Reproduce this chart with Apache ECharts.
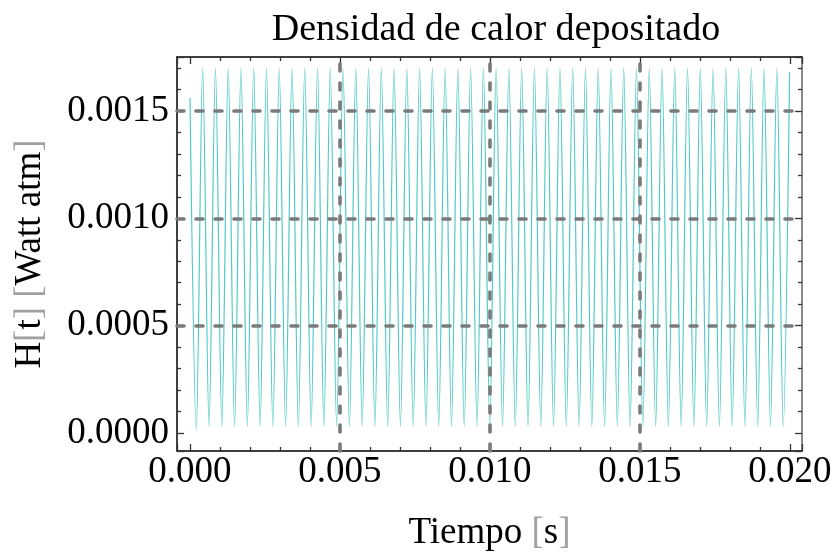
<!DOCTYPE html>
<html>
<head>
<meta charset="utf-8">
<script src="https://cdn.jsdelivr.net/npm/echarts@6/dist/echarts.min.js"></script>
<style>
  html, body { margin: 0; padding: 0; background: #ffffff; }
  #chart { width: 834px; height: 553px; }
</style>
</head>
<body>
<div id="chart"></div>
<script>
// Heat deposition density H(t) over 20 ms: alternating maxima and minima of the signal.
const startPoint = [0.000000, 0.00156];

const valleyTimes = [
  0.000210, 0.000635, 0.001061, 0.001486, 0.001911, 0.002337, 0.002762, 0.003187,
  0.003612, 0.004038, 0.004463, 0.004888, 0.005314, 0.005739, 0.006164, 0.006590,
  0.007015, 0.007440, 0.007865, 0.008291, 0.008716, 0.009141, 0.009567, 0.009992,
  0.010417, 0.010843, 0.011268, 0.011693, 0.012118, 0.012544, 0.012969, 0.013394,
  0.013820, 0.014245, 0.014670, 0.015096, 0.015521, 0.015946, 0.016371, 0.016797,
  0.017222, 0.017647, 0.018073, 0.018498, 0.018923, 0.019349, 0.019774
];
const valleyValues = [
  0.00001, 0.00003, 0.00003, 0.00003, 0.00003, 0.00003, 0.00003, 0.00003,
  0.00003, 0.00003, 0.00003, 0.00003, 0.00003, 0.00003, 0.00003, 0.00003,
  0.00003, 0.00003, 0.00003, 0.00003, 0.00003, 0.00003, 0.00003, 0.00003,
  0.00003, 0.00003, 0.00003, 0.00003, 0.00003, 0.00003, 0.00003, 0.00003,
  0.00003, 0.00003, 0.00003, 0.00003, 0.00003, 0.00003, 0.00003, 0.00003,
  0.00003, 0.00003, 0.00003, 0.00003, 0.00003, 0.00003, 0.00003
];
const peakTimes = [
  0.000423, 0.000848, 0.001274, 0.001699, 0.002124, 0.002550, 0.002975, 0.003400,
  0.003825, 0.004251, 0.004676, 0.005101, 0.005527, 0.005952, 0.006377, 0.006803,
  0.007228, 0.007653, 0.008078, 0.008504, 0.008929, 0.009354, 0.009780, 0.010205,
  0.010630, 0.011056, 0.011481, 0.011906, 0.012331, 0.012757, 0.013182, 0.013607,
  0.014033, 0.014458, 0.014883, 0.015309, 0.015734, 0.016159, 0.016584, 0.017010,
  0.017435, 0.017860, 0.018286, 0.018711, 0.019136, 0.019562, 0.019987
];
const peakValues = [
  0.00170, 0.00170, 0.00170, 0.00170, 0.00170, 0.00170, 0.00170, 0.00170,
  0.00170, 0.00170, 0.00170, 0.00170, 0.00170, 0.00170, 0.00170, 0.00170,
  0.00170, 0.00170, 0.00170, 0.00170, 0.00170, 0.00170, 0.00170, 0.00170,
  0.00170, 0.00170, 0.00170, 0.00170, 0.00170, 0.00170, 0.00170, 0.00170,
  0.00170, 0.00170, 0.00170, 0.00170, 0.00170, 0.00170, 0.00170, 0.00170,
  0.00170, 0.00170, 0.00170, 0.00170, 0.00170, 0.00170, 0.00168
];

// Dashed grid positions
const gridTimes = [0.005, 0.010, 0.015];
const gridLevels = [0.0005, 0.0010, 0.0015];

// Build the polyline: start, then valley/peak pairs in time order
const curve = [startPoint];
for (let i = 0; i < peakTimes.length; i++) {
  curve.push([valleyTimes[i], valleyValues[i]]);
  curve.push([peakTimes[i], peakValues[i]]);
}

const SERIF = "'Liberation Serif', 'Times New Roman', serif";
const FS = 37;
const X_MIN = -0.000433, X_MAX = 0.0204;
const Y_MIN = -0.0000837, Y_MAX = 0.0017512;

function onStep(v, step) {
  const r = v / step;
  return Math.abs(r - Math.round(r)) < 1e-6;
}

const tickStyle = { color: '#333333', width: 1.3 };

function axisBase(extra) {
  return Object.assign({
    type: 'value', splitNumber: 4,
    axisLine: { show: true, onZero: false, lineStyle: { color: '#000000', width: 1.5 } },
    axisTick: { show: true, inside: true, length: 7, lineStyle: tickStyle },
    minorTick: { show: true, splitNumber: 5, length: 4, lineStyle: tickStyle },
    splitLine: { show: false },
    minorSplitLine: { show: false }
  }, extra);
}

const bracket = { color: '#a0a0a0', fontFamily: SERIF, fontSize: FS };

// Dashed grid segments spanning the full plot area
const gridSegments = gridTimes.map(t => [{ coord: [t, Y_MIN] }, { coord: [t, Y_MAX] }])
  .concat(gridLevels.map(v => [{ coord: [X_MIN, v] }, { coord: [X_MAX, v] }]));

const option = {
  backgroundColor: '#ffffff',
  animation: false,
  title: {
    text: 'Densidad de calor depositado',
    left: 491, top: 6, textAlign: 'center',
    textStyle: { fontFamily: SERIF, fontSize: 38, fontWeight: 'normal', color: '#000000' }
  },
  grid: { left: 177, right: 32, top: 57, bottom: 102, outerBoundsMode: 'none', containLabel: false },
  xAxis: [
    axisBase({
      min: X_MIN, max: X_MAX,
      position: 'bottom',
      axisLabel: {
        fontFamily: SERIF, fontSize: FS, color: '#000000', margin: 3,
        formatter: v => onStep(v, 0.005) ? v.toFixed(3) : ''
      },
      name: 'Tiempo {b|[}s{b|]}',
      nameLocation: 'middle', nameGap: 64,
      nameTextStyle: {
        fontFamily: SERIF, fontSize: FS, color: '#000000',
        rich: { b: bracket }
      }
    }),
    axisBase({
      min: X_MIN, max: X_MAX,
      position: 'top',
      axisLabel: { show: false }
    })
  ],
  yAxis: [
    axisBase({
      min: Y_MIN, max: Y_MAX,
      position: 'left',
      axisLabel: {
        fontFamily: SERIF, fontSize: FS, color: '#000000', margin: 8,
        formatter: v => onStep(v, 0.0005) ? v.toFixed(4) : ''
      },
      name: 'H{b|[}t{b|]} {b|[}Watt atm{b|]}',
      nameLocation: 'middle', nameGap: 128,
      nameTextStyle: {
        fontFamily: SERIF, fontSize: FS, color: '#000000',
        rich: { b: bracket }
      }
    }),
    axisBase({
      min: Y_MIN, max: Y_MAX,
      position: 'right',
      axisLine: { show: true, onZero: false, lineStyle: { color: '#8a8a8a', width: 2 } },
      axisLabel: { show: false }
    })
  ],
  series: [
    {
      name: 'H(t)',
      type: 'line',
      xAxisIndex: 0, yAxisIndex: 0,
      data: curve,
      showSymbol: false,
      symbol: 'none',
      smooth: 0.3,
      lineStyle: { color: '#4fcac6', width: 1.2 },
      emphasis: { disabled: true },
      markLine: {
        silent: true,
        precision: 6,
        symbol: ['none', 'none'],
        label: { show: false },
        animation: false,
        lineStyle: { color: '#7a7a7a', width: 3.6, type: [7, 12], cap: 'round' },
        emphasis: { disabled: true },
        data: gridSegments
      }
    }
  ]
};

const chart = echarts.init(document.getElementById('chart'), null, { renderer: 'canvas' });
chart.setOption(option);
</script>
</body>
</html>
